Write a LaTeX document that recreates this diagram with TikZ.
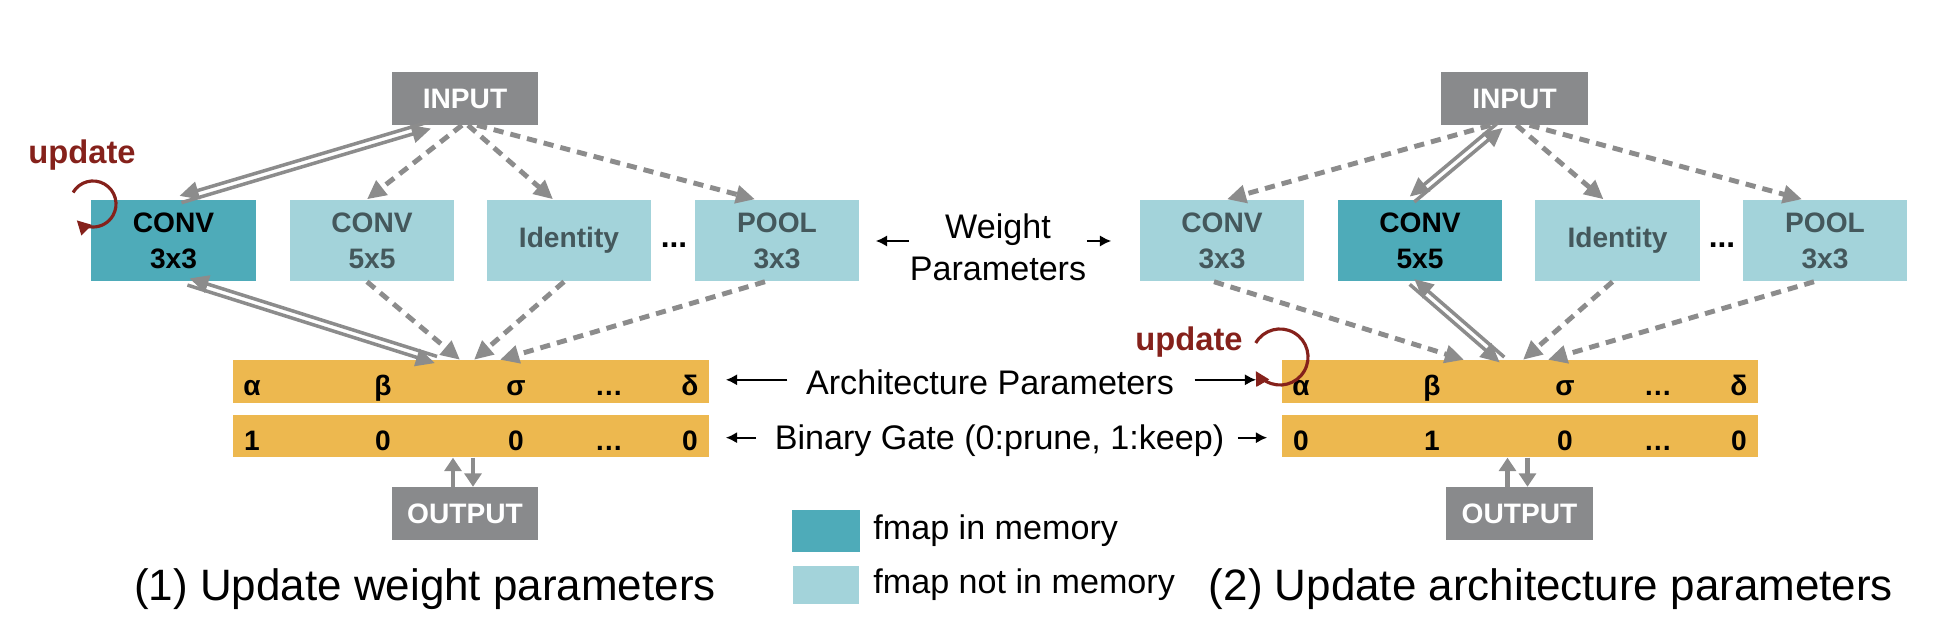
\documentclass[tikz,border=0pt]{standalone}
\usepackage{fontspec}
\setmainfont{Liberation Sans}
\usepackage{tikz}
\usetikzlibrary{arrows.meta,positioning,calc}
\definecolor{memteal}{RGB}{78,171,185}
\definecolor{offteal}{RGB}{163,211,218}
\definecolor{optext}{RGB}{68,88,92}
\definecolor{iogray}{RGB}{137,138,140}
\definecolor{bargold}{RGB}{237,184,79}
\definecolor{updred}{RGB}{133,33,27}
\definecolor{arrgray}{RGB}{140,140,140}

\begin{document}
\begin{tikzpicture}[x=0.01cm, y=-0.01cm,
  every node/.style={inner sep=0pt},
  >={Triangle[length=5.4pt,width=5pt]},
  opbox/.style={minimum width=16.4mm, minimum height=8.1mm, align=center, font=\fontsize{8}{10.2}\selectfont\bfseries},
  inmem/.style={opbox, fill=memteal, text=black},
  offmem/.style={opbox, fill=offteal, text=optext},
  iobox/.style={minimum width=14.6mm, minimum height=5.2mm, fill=iogray, text=white, font=\fontsize{8}{10}\selectfont\bfseries},
  parbar/.style={minimum width=47.6mm, minimum height=4.2mm, fill=bargold},
  sym/.style={anchor=base, font=\fontsize{8}{10}\selectfont\bfseries},
  lbl/.style={font=\fontsize{9.7}{12}\selectfont, align=center},
  caption/.style={font=\fontsize{12.5}{15}\selectfont},
  upd/.style={font=\fontsize{9.3}{11}\selectfont\bfseries, text=updred},
  dsh/.style={arrgray, line width=1.4pt, dash pattern=on 2.9pt off 2pt},
  dblline/.style={arrgray, line width=1pt},
  outarr/.style={arrgray, line width=1.2pt, >={Triangle[length=3.8pt,width=4.8pt]}},
  note/.style={-{Latex[length=3.2pt,width=3.2pt]}, line width=0.55pt},
  updarr/.style={updred, line width=0.9pt, -{Triangle[length=4pt,width=4pt]}}
]
\useasboundingbox (0,0) rectangle (1960,634);

% (1) weight step
\node[iobox] (inA) at (465,98.5) {INPUT};
\node[inmem] (convA1) at (173.5,240.5) {CONV\\3x3};
\node[offmem] (convA2) at (372,240.5) {CONV\\5x5};
\node[offmem] (idA) at (569,240.5) {Identity};
\node[offmem] (poolA) at (777,240.5) {POOL\\3x3};
\node[sym, font=\fontsize{9}{10}\selectfont\bfseries] (dotsA) at (674,248) {...};
\node[parbar] (archA) at (471,381.5) {};
\node[parbar] (gateA) at (471,436) {};
\node[iobox] (outA) at (465,513.5) {OUTPUT};
\foreach \x/\a/\g [count=\i] in {252/α/1, 383/β/0, 516/σ/0, 609/…/…, 690/δ/0} {
  \node[sym] (aA\i) at (\x,396) {\a};
  \node[sym] (gA\i) at (\x,451) {\g};
}

% (2) architecture step
\node[iobox] (inB) at (1514.5,98.5) {INPUT};
\node[offmem] (convB1) at (1222,240.5) {CONV\\3x3};
\node[inmem] (convB2) at (1420,240.5) {CONV\\5x5};
\node[offmem] (idB) at (1617.5,240.5) {Identity};
\node[offmem] (poolB) at (1825,240.5) {POOL\\3x3};
\node[sym, font=\fontsize{9}{10}\selectfont\bfseries] (dotsB) at (1722,248) {...};
\node[parbar] (archB) at (1520,381.5) {};
\node[parbar] (gateB) at (1520,436) {};
\node[iobox] (outB) at (1519.5,513.5) {OUTPUT};
\foreach \x/\a/\g [count=\i] in {1301/α/0, 1432/β/1, 1565/σ/0, 1658/…/…, 1739/δ/0} {
  \node[sym] (aB\i) at (\x,396) {\a};
  \node[sym] (gB\i) at (\x,451) {\g};
}

% dashed paths (not in memory)
\draw[dsh,->] ([xshift=-0.3mm]inA.south) -- ([xshift=-0.5mm]convA2.north);
\draw[dsh,->] ([xshift=0.3mm]inA.south) -- ([xshift=-1.6mm]idA.north);
\draw[dsh,->] ([xshift=1.2mm]inA.south) -- ([xshift=-2.2mm]poolA.north);
\draw[dsh,->] ([xshift=-0.5mm]convA2.south) -- ([xshift=-1.1mm]archA.north);
\draw[dsh,->] ([xshift=-0.5mm]idA.south) -- ([xshift=0.3mm]archA.north);
\draw[dsh,->] ([xshift=-1.2mm]poolA.south) -- ([xshift=2.9mm]archA.north);
\draw[dsh,->] ([xshift=-2.4mm]inB.south) -- ([xshift=0.5mm]convB1.north);
\draw[dsh,->] ([xshift=0.2mm]inB.south) -- ([xshift=-1.4mm]idB.north);
\draw[dsh,->] ([xshift=1.5mm]inB.south) -- ([xshift=-2.3mm]poolB.north);
\draw[dsh,->] ([xshift=-0.8mm]convB1.south) -- ([xshift=-5.6mm]archB.north);
\draw[dsh,->] ([xshift=-0.5mm]idB.south) -- ([xshift=0.3mm]archB.north);
\draw[dsh,->] ([xshift=-1.1mm]poolB.south) -- ([xshift=2.8mm]archB.north);

% double paths (in memory)
\coordinate (dA1) at ([xshift=0.7mm]convA1.north);
\coordinate (dA2) at ([xshift=-3.5mm]inA.south);
\coordinate (dA3) at ([xshift=1.5mm]convA1.south);
\coordinate (dA4) at ([xshift=-3.5mm]archA.north);
\coordinate (dB1) at ([xshift=-0.8mm]convB2.north);
\coordinate (dB2) at ([xshift=-1.4mm]inB.south);
\coordinate (dB3) at ([xshift=-0.8mm]convB2.south);
\coordinate (dB4) at ([xshift=-1.8mm]archB.north);
\foreach \p/\q in {dA1/dA2, dA3/dA4, dB1/dB2, dB3/dB4} {
  \draw[dblline,<-] ($(\p)!0.35mm!90:(\q)$) -- ($(\q)!0.35mm!-90:(\p)$);
  \draw[dblline,->] ($(\p)!0.35mm!-90:(\q)$) -- ($(\q)!0.35mm!90:(\p)$);
}

% output links
\draw[outarr,->] ([xshift=-1.2mm]outA.north) -- ([xshift=-1.2mm]outA.north |- gateA.south);
\draw[outarr,->] ([xshift=0.8mm]outA.north |- gateA.south) -- ([xshift=0.8mm]outA.north);
\draw[outarr,->] ([xshift=-1.2mm]outB.north) -- ([xshift=-1.2mm]outB.north |- gateB.south);
\draw[outarr,->] ([xshift=0.8mm]outB.north |- gateB.south) -- ([xshift=0.8mm]outB.north);

% update marks
\node[upd] (updA) at (82,155) {update};
\draw[updarr] ([shift={(150:2.3mm)}]93,204) arc[start angle=150, end angle=-135, radius=2.3mm];
\node[upd] (updB) at (1189,342) {update};
\draw[updarr] ([shift={(150:2.8mm)}]1280,357) arc[start angle=150, end angle=-150, radius=2.8mm];

% middle labels
\node[lbl] (wlab) at (998,247) {Weight\\Parameters};
\node[lbl, anchor=base] (alab) at (990,395) {Architecture Parameters};
\node[lbl, anchor=base] (glab) at (999.5,450) {Binary Gate (0:prune, 1:keep)};
\draw[note, shorten >=1.6mm] ([yshift=0.6mm]wlab.west) -- ([yshift=0.6mm]wlab.west -| poolA.east);
\draw[note, shorten >=2.8mm] ([yshift=0.6mm]wlab.east) -- ([yshift=0.6mm]wlab.east -| convB1.west);
\draw[note, shorten <=1.8mm, shorten >=1.6mm] ([yshift=0.3mm]alab.west) -- ([yshift=0.3mm]alab.west -| archA.east);
\draw[note, shorten <=2mm, shorten >=2.5mm] ([yshift=0.3mm]alab.east) -- ([yshift=0.3mm]alab.east -| archB.west);
\draw[note, shorten <=1.8mm, shorten >=1.6mm] ([yshift=0.35mm]glab.west) -- ([yshift=0.35mm]glab.west -| gateA.east);
\draw[note, shorten <=1.3mm, shorten >=1.4mm] ([yshift=0.35mm]glab.east) -- ([yshift=0.35mm]glab.east -| gateB.west);

% legend
\node[minimum width=6.7mm, minimum height=4.2mm, fill=memteal] (keyin) at (826,531) {};
\node[minimum width=6.6mm, minimum height=3.8mm, fill=offteal] (keyoff) at (826,585) {};
\node[lbl, right=1.25mm of keyin] (keyintxt) {fmap in memory};
\node[lbl, right=1.3mm of keyoff] (keyofftxt) {fmap not in memory};

% captions
\node[caption] (capA) at (425,589) {(1) Update weight parameters};
\node[caption] (capB) at (1551,589) {(2) Update architecture parameters};
\end{tikzpicture}
\end{document}
